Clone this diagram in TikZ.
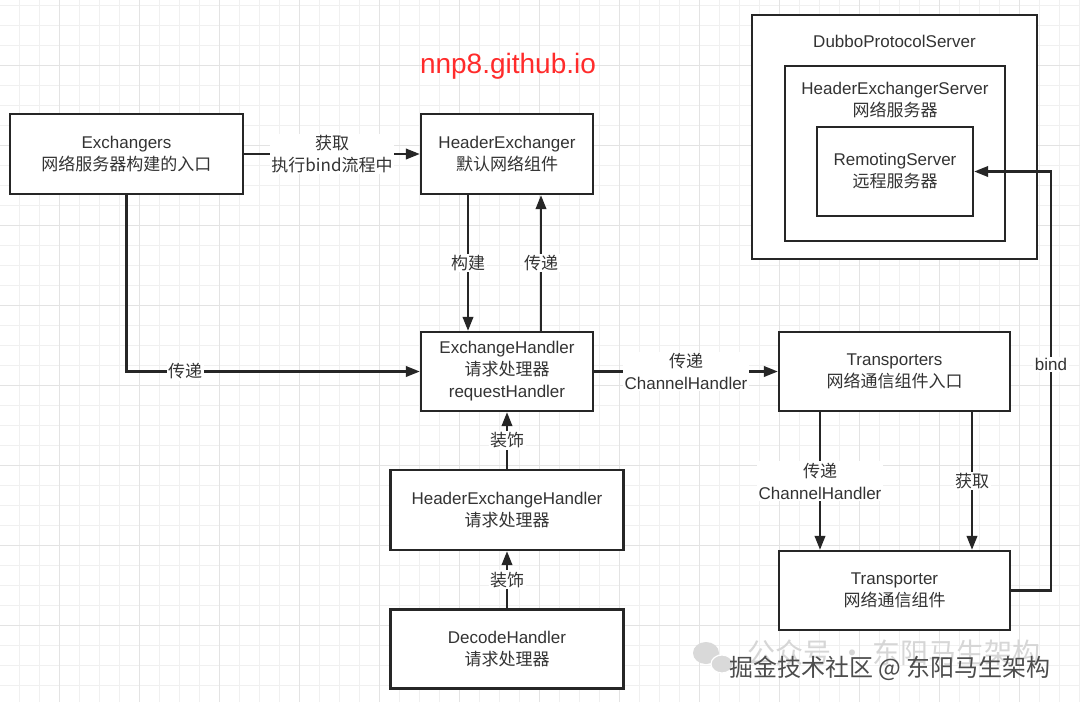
\documentclass[tikz,border=0pt]{standalone}
\usepackage{fontspec}
\setmainfont{Liberation Sans}
\newfontfamily\cjk{Noto Sans CJK SC}
\usetikzlibrary{arrows.meta}
\newcommand{\zh}[1]{{\cjk #1}}
\definecolor{txtgray}{HTML}{333333}
\definecolor{linegray}{HTML}{262626}
\definecolor{gridminor}{HTML}{F0F0F0}
\definecolor{gridmajor}{HTML}{E3E3E3}
\definecolor{sitered}{HTML}{FF2B2B}

\begin{document}
\begin{tikzpicture}[x=1pt, y=-1pt,
	box/.style={draw=linegray, line width=2.4pt, fill=white, text=txtgray, align=center, font=\fontsize{17}{22}\selectfont, inner sep=0pt},
	arr/.style={draw=linegray, line width=2.3pt, -{Triangle[length=14pt,width=10.5pt]}},
	lbl/.style={fill=white, text=txtgray, align=center, font=\fontsize{17}{22}\selectfont, inner sep=1.5pt}]
	\useasboundingbox (0,0) rectangle (1080,702);
	\fill [white] (0,0) rectangle (1080,702);
	% grid
	\foreach \i in {0,...,53}
	\draw [gridminor, line width=0.8pt] (19+20*\i,0) -- (19+20*\i,702);
	\foreach \i in {0,...,34}
	\draw [gridminor, line width=0.8pt] (0,5+20*\i) -- (1080,5+20*\i);
	\foreach \i in {0,...,12}
	\draw [gridmajor, line width=0.8pt] (59+80*\i,0) -- (59+80*\i,702);
	\foreach \i in {0,...,8}
	\draw [gridmajor, line width=0.8pt] (0,65+80*\i) -- (1080,65+80*\i);

	\node (site) [text=sitered, font=\fontsize{28}{30}\selectfont] at (508,66) {nnp8.github.io};

	\node (exch) [box, minimum width=233pt, minimum height=80pt] at (126.5,154) {Exchangers\\\zh{网络服务器构建的入口}};
	\node (hdrex) [box, minimum width=172pt, minimum height=80pt] at (507,154) {HeaderExchanger\\\zh{默认网络组件}};
	\node (exhdl) [box, minimum width=172pt, minimum height=79pt] at (507,371.5) {ExchangeHandler\\\zh{请求处理器}\\requestHandler};
	\node (hehdl) [box, minimum width=233pt, minimum height=80pt] at (507,510) {HeaderExchangeHandler\\\zh{请求处理器}};
	\node (dechdl) [box, minimum width=233pt, minimum height=79pt] at (507,649) {DecodeHandler\\\zh{请求处理器}};
	\node (trs) [box, minimum width=231pt, minimum height=79pt] at (894.5,371.5) {Transporters\\\zh{网络通信组件入口}};
	\node (tr) [box, minimum width=231pt, minimum height=79pt] at (894.5,590.5) {Transporter\\\zh{网络通信组件}};

	\node (dubbo) [box, minimum width=285pt, minimum height=244pt] at (894.5,137) {};
	\node (dubbotxt) [text=txtgray, font=\fontsize{17}{22}\selectfont] at (894.5,41) {DubboProtocolServer};
	\node (hesrv) [box, minimum width=220pt, minimum height=175pt] at (895,153.5) {};
	\node (hesrvtxt) [text=txtgray, align=center, font=\fontsize{17}{22}\selectfont] at (895,100.5) {HeaderExchangerServer\\\zh{网络服务器}};
	\node (rmsrv) [box, minimum width=156pt, minimum height=89pt] at (895,171.5) {RemotingServer\\\zh{远程服务器}};

	\draw [arr] (exch) -- (hdrex) node [lbl, midway] {\zh{获取}\\\zh{执行bind流程中}};
	\draw [arr] (exch.south) |- node [lbl, pos=0.6] {\zh{传递}} (exhdl.west);
	\draw [arr] ([xshift=-39pt]hdrex.south) -- node [lbl] {\zh{构建}} ([xshift=-39pt]exhdl.north);
	\draw [arr] ([xshift=34pt]exhdl.north) -- node [lbl] {\zh{传递}} ([xshift=34pt]hdrex.south);
	\draw [arr] (hehdl) -- node [lbl] {\zh{装饰}} (exhdl);
	\draw [arr] (dechdl) -- node [lbl] {\zh{装饰}} (hehdl);
	\draw [arr] (exhdl) -- node [lbl] {\zh{传递}\\ChannelHandler} (trs);
	\draw [arr] ([xshift=-74.5pt]trs.south) -- node [lbl] {\zh{传递}\\ChannelHandler} ([xshift=-74.5pt]tr.north);
	\draw [arr] ([xshift=77.5pt]trs.south) -- node [lbl] {\zh{获取}} ([xshift=77.5pt]tr.north);
	\coordinate (bindup) at (1051,171.5);
	\draw [arr] (tr.east) -| node [lbl, pos=0.77] {bind} (bindup) -- (rmsrv.east);

	% watermark
	\fill [gray!30] (706,653) ellipse (13pt and 11pt);
	\fill [gray!30, draw=white, line width=1.2pt] (722,664) ellipse (11pt and 9pt);
	\node (wmback) [text=gray!32, font=\fontsize{28}{30}\selectfont] at (894,653) {\zh{公众号 · 东阳马生架构}};
	\node (wmfront) [text=gray!60!black, font=\fontsize{24}{26}\selectfont] at (890,668) {\zh{掘金技术社区 @ 东阳马生架构}};
\end{tikzpicture}
\end{document}
